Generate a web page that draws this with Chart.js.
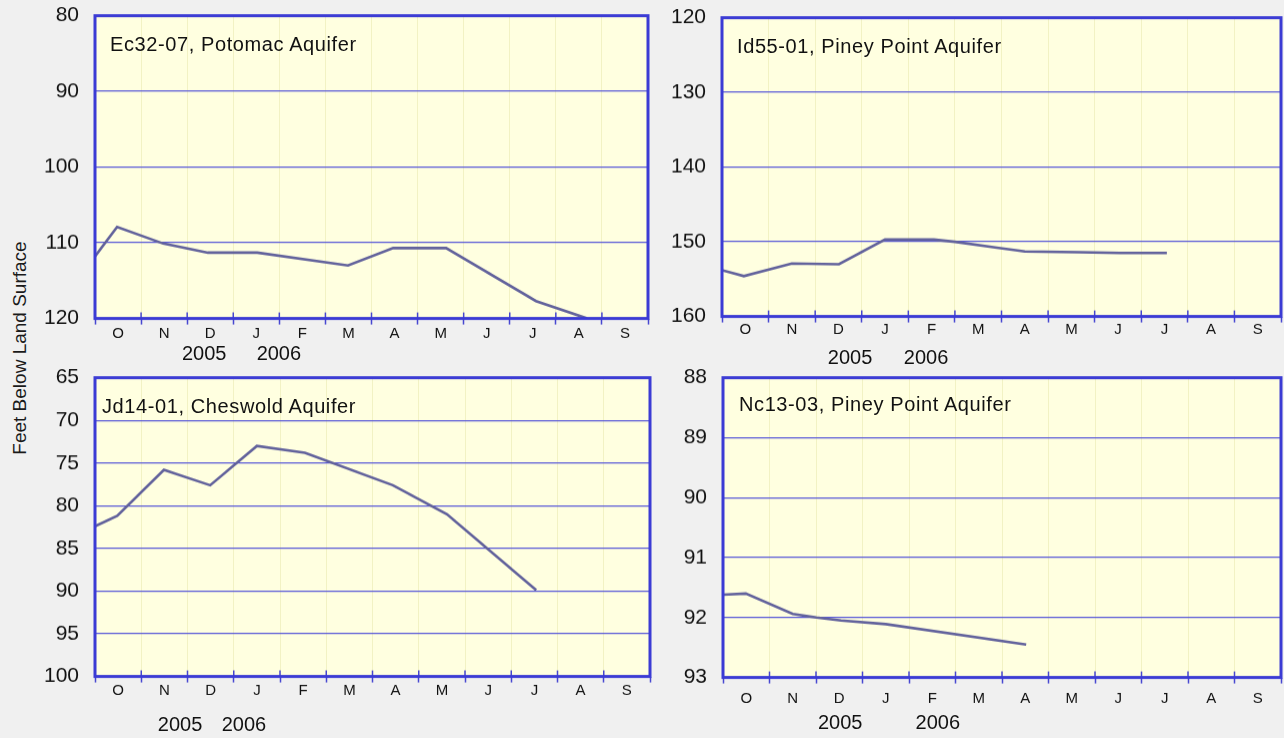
<!DOCTYPE html>
<html>
<head>
<meta charset="utf-8">
<script src="https://cdn.jsdelivr.net/npm/chart.js@4.4.0/dist/chart.umd.min.js"></script>
<style>
  html, body { margin: 0; padding: 0; background: #f0f0f0; }
  body { width: 1284px; height: 738px; position: relative; overflow: hidden; font-family: "Liberation Sans", Arial, sans-serif; }
  .panel { position: absolute; }
  .well { position: absolute; font-size: 20px; line-height: 22px; letter-spacing: 0.6px; color: #111; white-space: nowrap; }
  #ytitle { position: absolute; width: 300px; text-align: center; font-size: 19px; line-height: 22px; color: #1a1a1a;
            left: -130px; top: 337px; transform: rotate(-90deg); }
</style>
</head>
<body>
<div id="ytitle">Feet Below Land Surface</div>
<script>
// month ticks, Oct 2005 .. Sep 2006
const monthLabels = ['O', 'N', 'D', 'J', 'F', 'M', 'A', 'M', 'J', 'J', 'A', 'S'];
const yearLabels = ['2005', '2006'];

// x = months from the left edge of the axis, y = feet below land surface
const ec32Months = [0, 0.48, 1.48, 2.45, 3.52, 5.49, 6.47, 7.62, 9.57, 10.68];
const ec32Depth = [111.8, 107.9, 110.1, 111.3, 111.3, 113.0, 110.7, 110.7, 117.7, 120.0];

const id55Months = [0, 0.47, 1.5, 2.51, 3.5, 4.55, 5.0, 5.9, 6.5, 7.66, 8.54, 9.55];
const id55Depth = [153.8, 154.6, 152.9, 153.0, 149.7, 149.7, 150.0, 150.8, 151.3, 151.4, 151.5, 151.5];

const jd14Months = [0, 0.48, 1.49, 2.49, 3.5, 4.54, 6.44, 7.61, 9.54];
const jd14Depth = [82.4, 81.2, 75.8, 77.6, 73.0, 73.8, 77.6, 81.0, 89.9];

const nc13Months = [0, 0.49, 1.5, 2.01, 2.54, 3.5, 6.52];
const nc13Depth = [91.62, 91.60, 91.94, 92.00, 92.05, 92.11, 92.45];

Chart.defaults.font.family = '"Liberation Sans", Arial, sans-serif';
Chart.defaults.color = '#111';

// yellow plot, blue frame, ticks crossing the bottom axis
const panelFrame = {
    id: 'panelFrame',
    beforeDraw(chart) {
        const a = chart.chartArea, ctx = chart.ctx;
        ctx.save();
        ctx.fillStyle = '#ffffe0';
        ctx.fillRect(a.left, a.top, a.right - a.left, a.bottom - a.top);
        ctx.restore();
    },
    afterDraw(chart) {
        const a = chart.chartArea, ctx = chart.ctx;
        const xs = chart.scales.x;
        ctx.save();
        ctx.strokeStyle = '#4646d0';
        ctx.lineWidth = 1.5;
        xs.ticks.forEach(t => {
            const px = xs.getPixelForValue(t.value);
            ctx.beginPath();
            ctx.moveTo(px, a.bottom - 6);
            ctx.lineTo(px, a.bottom);
            ctx.stroke();
        });
        ctx.strokeStyle = '#3b3bd4';
        ctx.lineWidth = 3;
        ctx.strokeRect(a.left, a.top, a.right - a.left, a.bottom - a.top);
        ctx.restore();
    }
};

function makePanel(p) {
    const yw = 70;
    const mh = p.mPad + 18;
    const yh = p.yPad + 26;
    const box = document.createElement('div');
    box.className = 'panel';
    box.style.left = (p.L - yw) + 'px';
    box.style.top = (p.T - 14) + 'px';
    box.style.width = (p.R - p.L + yw + 4) + 'px';
    box.style.height = (14 + (p.B - p.T) + 6 + mh + yh) + 'px';
    const canvas = document.createElement('canvas');
    box.appendChild(canvas);
    document.body.appendChild(box);

    const lbl = document.createElement('div');
    lbl.className = 'well';
    lbl.style.left = (p.L + p.tx) + 'px';
    lbl.style.top = (p.T + p.ty) + 'px';
    lbl.textContent = p.name;
    document.body.appendChild(lbl);

    const chart = new Chart(canvas, {
        type: 'line',
        data: {
            datasets: [{
                data: p.months.map((m, i) => ({ x: m, y: p.depth[i] })),
                borderColor: '#62629c',
                borderWidth: 2.6,
                pointRadius: 0,
                tension: 0,
                xAxisID: 'x',
                yAxisID: 'y'
            }]
        },
        options: {
            responsive: true,
            maintainAspectRatio: false,
            animation: false,
            layout: { padding: { top: 0, left: 0, right: 4, bottom: 0 } },
            plugins: { legend: { display: false }, tooltip: { enabled: false } },
            scales: {
                x: {
                    type: 'linear', position: 'bottom', min: 0, max: 12,
                    ticks: { stepSize: 1, display: false },
                    grid: { color: '#f2f2c4', lineWidth: 1, drawTicks: true, tickLength: 6, tickColor: '#4646d0', tickWidth: 1.5 },
                    border: { display: false },
                    afterFit: s => { s.height = 6; }
                },
                months: {
                    type: 'category', axis: 'x', position: 'bottom', labels: monthLabels, offset: true,
                    grid: { display: false, drawTicks: false }, border: { display: false },
                    ticks: { font: { size: 15 }, color: '#111', padding: p.mPad, autoSkip: false, maxRotation: 0 },
                    afterFit: s => { s.height = mh; }
                },
                years: {
                    type: 'linear', axis: 'x', position: 'bottom', min: 0, max: 12,
                    grid: { display: false, drawTicks: false }, border: { display: false },
                    afterBuildTicks: s => { s.ticks = p.years.map(v => ({ value: v })); },
                    ticks: { font: { size: 20 }, color: '#111', padding: p.yPad, autoSkip: false, maxRotation: 0,
                             callback: (v, i) => yearLabels[i] },
                    afterFit: s => { s.height = yh; }
                },
                y: {
                    type: 'linear', reverse: true, min: p.min, max: p.max,
                    ticks: { stepSize: p.step, font: { size: 21 }, color: '#111', padding: 16 },
                    grid: { color: '#5858d8', lineWidth: 1.3, drawTicks: false },
                    border: { display: false },
                    afterFit: s => { s.width = yw; }
                }
            }
        },
        plugins: [panelFrame]
    });

    // line the plot area up with the reference frame
    const ca = chart.chartArea;
    const below = chart.height - ca.bottom;
    const right = chart.width - ca.right;
    box.style.left = (p.L - ca.left) + 'px';
    box.style.top = (p.T - ca.top) + 'px';
    box.style.width = (ca.left + (p.R - p.L) + right) + 'px';
    box.style.height = (ca.top + (p.B - p.T) + below) + 'px';
    chart.resize();
}

makePanel({ name: 'Ec32-07, Potomac Aquifer', months: ec32Months, depth: ec32Depth,
            min: 80, max: 120, step: 10, L: 95, R: 648, T: 16, B: 318,
            tx: 15, ty: 17, mPad: 0, yPad: 0, years: [2.37, 3.99] });
makePanel({ name: 'Id55-01, Piney Point Aquifer', months: id55Months, depth: id55Depth,
            min: 120, max: 160, step: 10, L: 722, R: 1281, T: 18, B: 316,
            tx: 15, ty: 17, mPad: -2, yPad: 8, years: [2.75, 4.38] });
makePanel({ name: 'Jd14-01, Cheswold Aquifer', months: jd14Months, depth: jd14Depth,
            min: 65, max: 100, step: 5, L: 95, R: 650, T: 378, B: 676,
            tx: 7, ty: 17, mPad: -1, yPad: 14, years: [1.84, 3.22] });
makePanel({ name: 'Nc13-03, Piney Point Aquifer', months: nc13Months, depth: nc13Depth,
            min: 88, max: 93, step: 1, L: 723, R: 1281, T: 378, B: 677,
            tx: 16, ty: 15, mPad: 6, yPad: 4, years: [2.52, 4.62] });
</script>
</body>
</html>
